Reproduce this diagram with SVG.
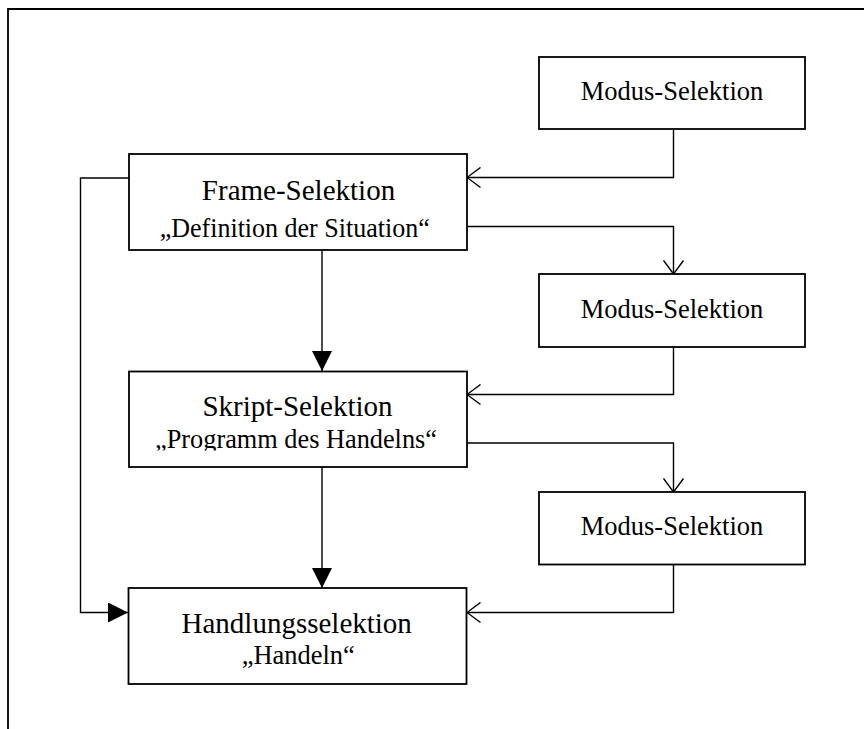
<svg xmlns="http://www.w3.org/2000/svg" width="864" height="729" viewBox="0 0 864 729">
  <style>
    .box { fill: #fff; stroke: #000; stroke-width: 1.8; }
    .conn { fill: none; stroke: #000; stroke-width: 1.4; }
    .t1 { font-family: "Liberation Serif", "Times New Roman", serif; font-size: 29px; fill: #000; text-anchor: middle; }
    .t2 { font-family: "Liberation Serif", "Times New Roman", serif; font-size: 28px; fill: #000; text-anchor: middle; }
    .tm { font-family: "Liberation Serif", "Times New Roman", serif; font-size: 26.5px; fill: #000; text-anchor: middle; }
  </style>
  <defs>
    <marker id="open" viewBox="0 0 15 22" refX="14.5" refY="11" markerWidth="15" markerHeight="22" markerUnits="userSpaceOnUse" orient="auto">
      <path d="M1,1 L14.5,11 L1,21" fill="none" stroke="#000" stroke-width="1.4"/>
    </marker>
    <marker id="filled" viewBox="0 0 20 20" refX="20" refY="10" markerWidth="20" markerHeight="20" markerUnits="userSpaceOnUse" orient="auto">
      <path d="M0,0 L20,10 L0,20 Z" fill="#000"/>
    </marker>
    <clipPath id="clipSkript">
      <rect x="130" y="372" width="336" height="78.5"/>
    </clipPath>
  </defs>

  <g id="frame-border">
    <path d="M8,729 L8,9 L864,9" fill="none" stroke="#000" stroke-width="1.8"/>
  </g>

  <g id="connectors">
    <path class="conn" d="M673.5,129 L673.5,177.5 L467,177.5" marker-end="url(#open)"/>
    <path class="conn" d="M467,226.5 L673.5,226.5 L673.5,274" marker-end="url(#open)"/>
    <path class="conn" d="M673.5,347 L673.5,394.5 L467,394.5" marker-end="url(#open)"/>
    <path class="conn" d="M467,443 L673.5,443 L673.5,492" marker-end="url(#open)"/>
    <path class="conn" d="M673.5,564.5 L673.5,612.5 L467,612.5" marker-end="url(#open)"/>
    <path class="conn" d="M322,250 L322,371" marker-end="url(#filled)"/>
    <path class="conn" d="M322,467 L322,588" marker-end="url(#filled)"/>
    <path class="conn" d="M129,178 L80.5,178 L80.5,612.5 L128,612.5" marker-end="url(#filled)"/>
  </g>

  <g id="modus1">
    <rect class="box" x="539" y="57" width="266" height="72"/>
    <text class="tm" x="672" y="100">Modus-Selektion</text>
  </g>

  <g id="frame-selektion">
    <rect class="box" x="129" y="154" width="338" height="96"/>
    <text class="t1" x="298.5" y="200">Frame-Selektion</text>
    <text class="t2" x="294.7" y="237.3" textLength="270" lengthAdjust="spacingAndGlyphs">„Definition der Situation“</text>
  </g>

  <g id="modus2">
    <rect class="box" x="539" y="274" width="266" height="73"/>
    <text class="tm" x="672" y="318">Modus-Selektion</text>
  </g>

  <g id="skript-selektion">
    <rect class="box" x="129" y="371.5" width="338" height="95.5"/>
    <text class="t1" x="297.5" y="416">Skript-Selektion</text>
    <text class="t2" x="296" y="448.3" textLength="282" lengthAdjust="spacingAndGlyphs" clip-path="url(#clipSkript)">„Programm des Handelns“</text>
  </g>

  <g id="modus3">
    <rect class="box" x="539" y="492" width="266" height="72.5"/>
    <text class="tm" x="672" y="535">Modus-Selektion</text>
  </g>

  <g id="handlungsselektion">
    <rect class="box" x="128.5" y="588" width="338" height="96"/>
    <text class="t1" x="296.7" y="632.5">Handlungsselektion</text>
    <text class="t2" x="298.3" y="663.5" textLength="113" lengthAdjust="spacingAndGlyphs">„Handeln“</text>
  </g>
</svg>
